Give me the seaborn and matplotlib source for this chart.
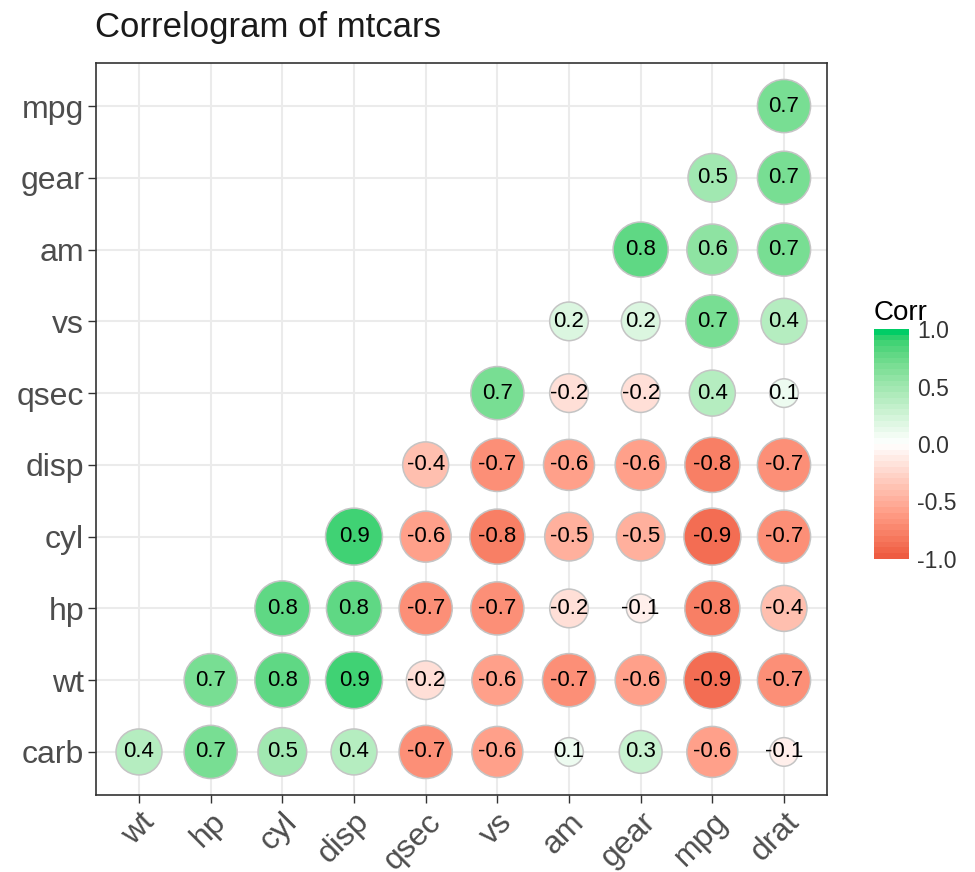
import numpy as np
import pandas as pd
import matplotlib
matplotlib.use("Agg")
import matplotlib.pyplot as plt
import seaborn as sns
from matplotlib.colors import ListedColormap, Normalize
import matplotlib as mpl

title = "Correlogram of mtcars"
legend_title = "Corr"
x_vars = ["wt", "hp", "cyl", "disp", "qsec", "vs", "am", "gear", "mpg", "drat"]
y_vars = ["carb", "wt", "hp", "cyl", "disp", "qsec", "vs", "am", "gear", "mpg"]  # bottom to top

# each row starts at the column with the same index as the row
corr_carb = [0.4, 0.7, 0.5, 0.4, -0.7, -0.6, 0.1, 0.3, -0.6, -0.1]
corr_wt = [0.7, 0.8, 0.9, -0.2, -0.6, -0.7, -0.6, -0.9, -0.7]
corr_hp = [0.8, 0.8, -0.7, -0.7, -0.2, -0.1, -0.8, -0.4]
corr_cyl = [0.9, -0.6, -0.8, -0.5, -0.5, -0.9, -0.7]
corr_disp = [-0.4, -0.7, -0.6, -0.6, -0.8, -0.7]
corr_qsec = [0.7, -0.2, -0.2, 0.4, 0.1]
corr_vs = [0.2, 0.2, 0.7, 0.4]
corr_am = [0.8, 0.6, 0.7]
corr_gear = [0.5, 0.7]
corr_mpg = [0.7]
legend_ticks = [-1.0, -0.5, 0.0, 0.5, 1.0]

rows = [corr_carb, corr_wt, corr_hp, corr_cyl, corr_disp,
        corr_qsec, corr_vs, corr_am, corr_gear, corr_mpg]

records = []
for i, vals in enumerate(rows):
    for k, v in enumerate(vals):
        records.append({"xi": i + k, "yi": i, "corr": v})
df = pd.DataFrame(records)
df["abs"] = df["corr"].abs()
amin, amax = df["abs"].min(), df["abs"].max()
dmin, dmax = 20.6, 41.0  # marker diameters in points
df["sz"] = (dmin + (dmax - dmin) * np.sqrt((df["abs"] - amin) / (amax - amin))) ** 2


# ---- Lab-interpolated diverging palette (tomato2 - white - springgreen3) ----
def _srgb_to_lin(c):
    c = np.asarray(c, float)
    return np.where(c <= 0.04045, c / 12.92, ((c + 0.055) / 1.055) ** 2.4)


def _lin_to_srgb(c):
    c = np.clip(c, 0, 1)
    return np.where(c <= 0.0031308, 12.92 * c, 1.055 * c ** (1 / 2.4) - 0.055)


M = np.array([[0.4124564, 0.3575761, 0.1804375],
              [0.2126729, 0.7151522, 0.0721750],
              [0.0193339, 0.1191920, 0.9503041]])
Minv = np.linalg.inv(M)
WHITE = np.array([0.95047, 1.0, 1.08883])


def _f(t):
    d = 6 / 29
    return np.where(t > d ** 3, np.cbrt(t), t / (3 * d * d) + 4 / 29)


def _finv(t):
    d = 6 / 29
    return np.where(t > d, t ** 3, 3 * d * d * (t - 4 / 29))


def rgb2lab(rgb):
    xyz = M @ _srgb_to_lin(rgb) / WHITE
    fx, fy, fz = _f(xyz)
    return np.array([116 * fy - 16, 500 * (fx - fy), 200 * (fy - fz)])


def lab2rgb(lab):
    L, a, b = lab
    fy = (L + 16) / 116
    fx = fy + a / 500
    fz = fy - b / 200
    xyz = np.array([_finv(fx), _finv(fy), _finv(fz)]) * WHITE
    return _lin_to_srgb(Minv @ xyz)


low = rgb2lab(np.array([0xEE, 0x5C, 0x42]) / 255)
mid = rgb2lab(np.array([1.0, 1.0, 1.0]))
high = rgb2lab(np.array([0x00, 0xCD, 0x66]) / 255)
cols = []
for v in np.linspace(-1, 1, 256):
    if v < 0:
        t = v + 1
        lab = low + (mid - low) * t
    else:
        lab = mid + (high - mid) * v
    cols.append(np.clip(lab2rgb(lab), 0, 1))
cmap = ListedColormap(cols)

# ---- figure ----
sns.set_style("white")
plt.rcParams["font.family"] = ["Liberation Sans", "DejaVu Sans"]

fig = plt.figure(figsize=(9.75, 8.72), dpi=100)
ax = fig.add_axes([96 / 975, 1 - 795 / 872, 731 / 975, 732 / 872])

ax.set_xlim(-0.6, 9.6)
ax.set_ylim(-0.6, 9.6)
ax.set_axisbelow(True)
ax.grid(True, color="#EBEBEB", linewidth=1.5)

sns.scatterplot(data=df, x="xi", y="yi", hue="corr", hue_norm=(-1, 1), palette=cmap,
                size="sz", sizes=(dmin ** 2, dmax ** 2), size_norm=(dmin ** 2, dmax ** 2),
                edgecolor="#C4C4C4", linewidth=1.1, legend=False, ax=ax, zorder=3)

for _, r in df.iterrows():
    ax.text(r["xi"], r["yi"], f"{r['corr']:.1f}", ha="center", va="center",
            fontsize=16, color="black", zorder=4)

ax.set_xticks(range(len(x_vars)))
ax.set_xticklabels(x_vars, rotation=45, ha="right", va="top", rotation_mode="anchor")
ax.set_yticks(range(len(y_vars)))
ax.set_yticklabels(y_vars)
ax.tick_params(axis="both", length=5.5, width=1.0, color="#333333", labelsize=23,
               labelcolor="#4D4D4D", pad=3, bottom=True, left=True)
ax.set_xlabel("")
ax.set_ylabel("")
for s in ax.spines.values():
    s.set_color("#333333")
    s.set_linewidth(1.2)

fig.text(95 / 975, 1 - 37 / 872, title, fontsize=25, color="#1a1a1a", ha="left", va="baseline")

# ---- colour bar ----
cax = fig.add_axes([874 / 975, 1 - 559 / 872, 35 / 975, 230 / 872])
cb = mpl.colorbar.ColorbarBase(cax, cmap=cmap.resampled(40), norm=Normalize(-1, 1),
                               orientation="vertical")
cb.outline.set_visible(False)
cb.set_ticks(legend_ticks)
cb.set_ticklabels([f"{t:.1f}" for t in legend_ticks])
cax.tick_params(axis="y", direction="in", color="white", length=7, width=1,
                left=True, right=True, labelsize=16.5, labelcolor="#333333", pad=6)
fig.text(874 / 975, 1 - 320 / 872, legend_title, fontsize=20, color="black",
         ha="left", va="baseline")

fig.savefig("out.png", dpi=100)
